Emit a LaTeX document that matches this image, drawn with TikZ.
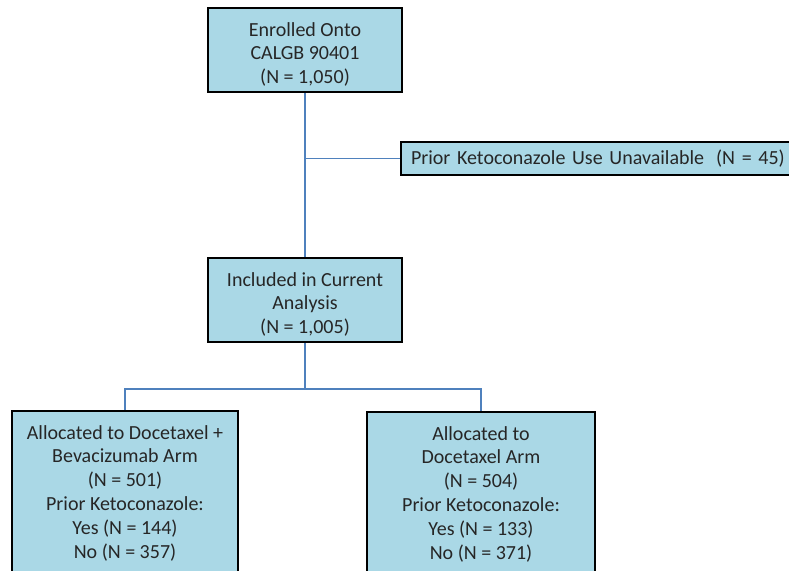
\documentclass[tikz,border=0pt]{standalone}
\usepackage{fontspec}
\setmainfont{Carlito}
\definecolor{boxfill}{RGB}{170,216,230}
\definecolor{linkblue}{RGB}{79,129,189}
\newcommand{\lowerstrut}{\rule{0pt}{22.5pt}}
\begin{document}
\begin{tikzpicture}[x=1pt,y=-1pt,
  box/.style={draw=black,line width=2pt,fill=boxfill,align=center,inner sep=0pt,
    font=\fontsize{20}{23.8}\selectfont,text=black!85},
  link/.style={draw=linkblue,line width=1.4pt}]
\useasboundingbox (0,0) rectangle (789,570);
\clip (0,0) rectangle (789,570);
\node[box,anchor=west,minimum width=405pt,minimum height=33pt,text width=385pt,align=left] (una) at (400,158.5)
  {Prior Ketoconazole Use Unavailable\hspace*{12pt}(N = 45)};
\node[box,minimum width=194pt,minimum height=84pt] (enr) at (305,50)
  {\lowerstrut Enrolled Onto\\CALGB 90401\\(N = 1,050)};
\node[box,minimum width=194pt,minimum height=84pt] (inc) at (305,300)
  {\lowerstrut Included in Current\\Analysis\\(N = 1,005)};
\node[box,minimum width=226pt,minimum height=164pt] (doc1) at (125,493)
  {Allocated to Docetaxel +\\Bevacizumab Arm\\(N = 501)\\Prior Ketoconazole:\\Yes (N = 144)\\No (N = 357)};
\node[box,minimum width=228pt,minimum height=164pt] (doc2) at (481,494)
  {Allocated to\\Docetaxel Arm\\(N = 504)\\Prior Ketoconazole:\\Yes (N = 133)\\No (N = 371)};
\coordinate (br) at (305,158.5);
\coordinate (sp) at (305,389);
\draw[link] (enr.south) -- (inc.north);
\draw[link] (br) -- (una.west);
\draw[link] (inc.south) -- (sp);
\draw[link] (sp) -| (doc1.north);
\draw[link] (sp) -| (doc2.north);
\end{tikzpicture}
\end{document}
